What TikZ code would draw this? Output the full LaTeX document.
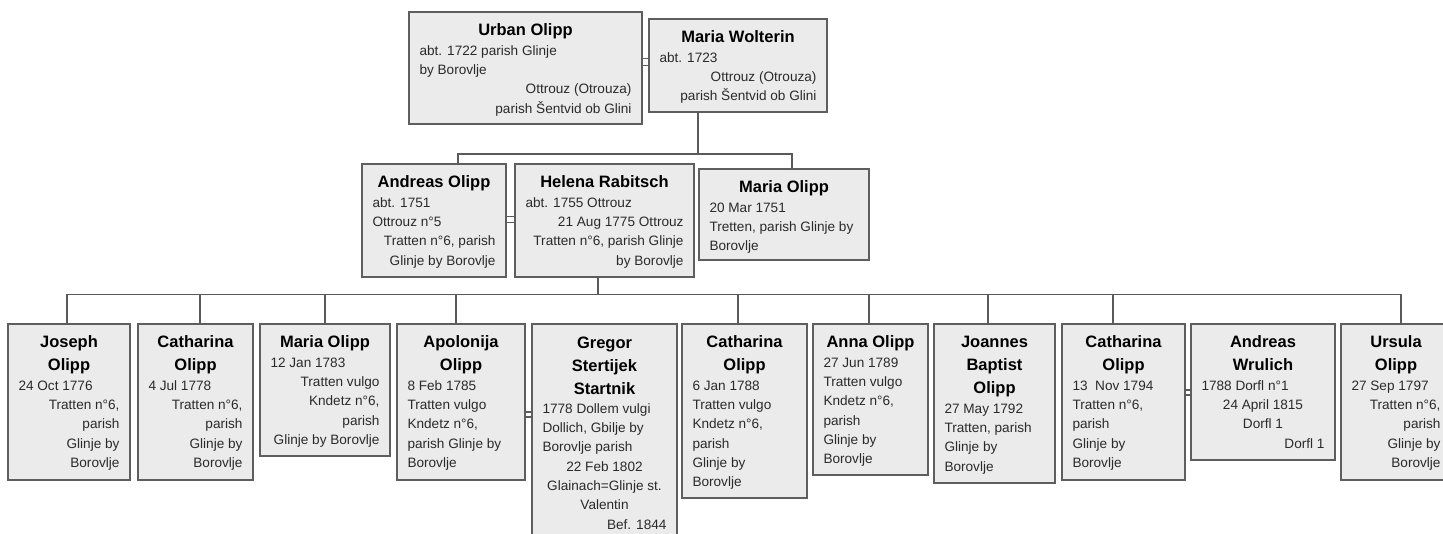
\documentclass[tikz,border=0pt]{standalone}
\usepackage{fontspec}
\setmainfont{Liberation Sans}
\usetikzlibrary{calc}
\definecolor{boxfill}{HTML}{EBEBEB}
\definecolor{boxline}{HTML}{5E5E5E}
\definecolor{connline}{HTML}{5A5A5A}
\definecolor{bodytext}{HTML}{2A2A2A}
\newcommand\plN[1]{{\fontsize{16.5}{23}\selectfont\bfseries\makebox[\linewidth][c]{#1}\par}}
\newcommand\plL[1]{{\fontsize{13.6}{19.3}\selectfont\color{bodytext}\makebox[\linewidth][l]{#1}\par}}
\newcommand\plR[1]{{\fontsize{13.6}{19.3}\selectfont\color{bodytext}\makebox[\linewidth][r]{#1}\par}}
\newcommand\plC[1]{{\fontsize{13.6}{19.3}\selectfont\color{bodytext}\makebox[\linewidth][c]{#1}\par}}
\tikzset{
  pbox/.style={draw=boxline, fill=boxfill, line width=1.3pt, inner xsep=10.5pt, inner ysep=0pt, outer sep=0pt, anchor=north west},
  conn/.style={draw=connline, line width=1.4pt},
}
% name, x, y, width, height, content
\newcommand\person[6]{\node[pbox] (#1) at (#2,#3) {\parbox[c][#5pt][t]{\dimexpr#4pt-21pt\relax}{\hbox{}\vskip1pt #6}};}
\begin{document}
\begin{tikzpicture}[x=1pt,y=-1pt]
\useasboundingbox (0,0) rectangle (1443,534);
\clip (0,0) rectangle (1443,534);
\fill[white] (0,0) rectangle (1443,534);

% generation 1
\person{urban}{409}{12}{233}{112}{\plN{Urban Olipp}\plL{abt. 1722 parish Glinje}\plL{by Borovlje}\plR{Ottrouz (Otrouza)}\plR{parish Šentvid ob Glini}}
\person{wolterin}{649}{19}{178}{93}{\plN{Maria Wolterin}\plL{abt. 1723}\plR{Ottrouz (Otrouza)}\plR{parish Šentvid ob Glini}}

% generation 2
\person{andreas}{362}{164}{144}{113}{\plN{Andreas Olipp}\plL{abt. 1751}\plL{Ottrouz n°5}\plR{Tratten n°6, parish}\plR{Glinje by Borovlje}}
\person{helena}{515}{164}{179}{113}{\plN{Helena Rabitsch}\plL{abt. 1755 Ottrouz}\plR{21 Aug 1775 Ottrouz}\plR{Tratten n°6, parish Glinje}\plR{by Borovlje}}
\person{mariaO}{699}{169}{170}{91}{\plN{Maria Olipp}\plL{20 Mar 1751}\plL{Tretten, parish Glinje by}\plL{Borovlje}}

% generation 3
\person{joseph}{8}{324}{122}{156}{\plN{Joseph}\plN{Olipp}\plL{24 Oct 1776}\plR{Tratten n°6,}\plR{parish}\plR{Glinje by}\plR{Borovlje}}
\person{cathA}{138}{324}{115}{156}{\plN{Catharina}\plN{Olipp}\plL{4 Jul 1778}\plR{Tratten n°6,}\plR{parish}\plR{Glinje by}\plR{Borovlje}}
\person{mariaC}{260}{324}{130}{132}{\plN{Maria Olipp}\plL{12 Jan 1783}\plR{Tratten vulgo}\plR{Kndetz n°6,}\plR{parish}\plR{Glinje by Borovlje}}
\person{apol}{397}{324}{128}{156}{\plN{Apolonija}\plN{Olipp}\plL{8 Feb 1785}\plL{Tratten vulgo}\plL{Kndetz n°6,}\plL{parish Glinje by}\plL{Borovlje}}
\person{gregor}{532}{324}{145}{232}{\plN{Gregor}\plN{Stertijek}\plN{Startnik}\plL{1778 Dollem vulgi}\plL{Dollich, Gbilje by}\plL{Borovlje parish}\plC{22 Feb 1802}\plC{Glainach=Glinje st.}\plC{Valentin}\plR{Bef. 1844}}
\person{cathB}{682}{324}{125}{174}{\plN{Catharina}\plN{Olipp}\plL{6 Jan 1788}\plL{Tratten vulgo}\plL{Kndetz n°6,}\plL{parish}\plL{Glinje by}\plL{Borovlje}}
\person{anna}{813}{324}{115}{151}{\plN{Anna Olipp}\plL{27 Jun 1789}\plL{Tratten vulgo}\plL{Kndetz n°6,}\plL{parish}\plL{Glinje by}\plL{Borovlje}}
\person{joannes}{934}{324}{121}{159}{\plN{Joannes}\plN{Baptist}\plN{Olipp}\plL{27 May 1792}\plL{Tratten, parish}\plL{Glinje by}\plL{Borovlje}}
\person{cathC}{1062}{324}{123}{156}{\plN{Catharina}\plN{Olipp}\plL{13 \ Nov 1794}\plL{Tratten n°6,}\plL{parish}\plL{Glinje by}\plL{Borovlje}}
\person{wrulich}{1191}{324}{144}{136}{\plN{Andreas}\plN{Wrulich}\plL{1788 Dorfl n°1}\plC{24 April 1815}\plC{Dorfl 1}\plR{Dorfl 1}}
\person{ursula}{1341}{324}{110}{156}{\plN{Ursula}\plN{Olipp}\plL{27 Sep 1797}\plR{Tratten n°6,}\plR{parish}\plR{Glinje by}\plR{Borovlje}}

% helper coordinates
\coordinate (m1a) at (0,58.5);  \coordinate (m1b) at (0,65.5);
\coordinate (m2a) at (0,216.5); \coordinate (m2b) at (0,222.5);
\coordinate (m3a) at (0,412);   \coordinate (m3b) at (0,417);
\coordinate (m4a) at (0,390);   \coordinate (m4b) at (0,395);
\coordinate (f1) at (698,154);  \coordinate (f1a) at (458,154); \coordinate (f1b) at (792,154);
\coordinate (f2) at (598,294.5);
\coordinate (k1) at (67,294.5);   \coordinate (k2) at (200,294.5);  \coordinate (k3) at (325,294.5);
\coordinate (k4) at (456,294.5);  \coordinate (k5) at (738,294.5);  \coordinate (k6) at (869,294.5);
\coordinate (k7) at (988,294.5);  \coordinate (k8) at (1113,294.5); \coordinate (k9) at (1401,294.5);

% marriages
\draw[conn] (urban.east |- m1a) -- (wolterin.west |- m1a);
\draw[conn] (urban.east |- m1b) -- (wolterin.west |- m1b);
\draw[conn] (andreas.east |- m2a) -- (helena.west |- m2a);
\draw[conn] (andreas.east |- m2b) -- (helena.west |- m2b);
\draw[conn] (apol.east |- m3a) -- (gregor.west |- m3a);
\draw[conn] (apol.east |- m3b) -- (gregor.west |- m3b);
\draw[conn] (cathC.east |- m4a) -- (wrulich.west |- m4a);
\draw[conn] (cathC.east |- m4b) -- (wrulich.west |- m4b);

% children of Urban & Maria
\draw[conn] (wolterin.south -| f1) -- (f1);
\draw[conn] (andreas.north -| f1a) -- (f1a) -- (f1b) -- (mariaO.north -| f1b);

% children of Andreas & Helena
\draw[conn] (helena.south -| f2) -- (f2);
\draw[conn] (joseph.north -| k1) -- (k1) -- (k9) -- (ursula.north -| k9);
\draw[conn] (k2) -- (cathA.north -| k2);
\draw[conn] (k3) -- (mariaC.north -| k3);
\draw[conn] (k4) -- (apol.north -| k4);
\draw[conn] (k5) -- (cathB.north -| k5);
\draw[conn] (k6) -- (anna.north -| k6);
\draw[conn] (k7) -- (joannes.north -| k7);
\draw[conn] (k8) -- (cathC.north -| k8);
\end{tikzpicture}
\end{document}
